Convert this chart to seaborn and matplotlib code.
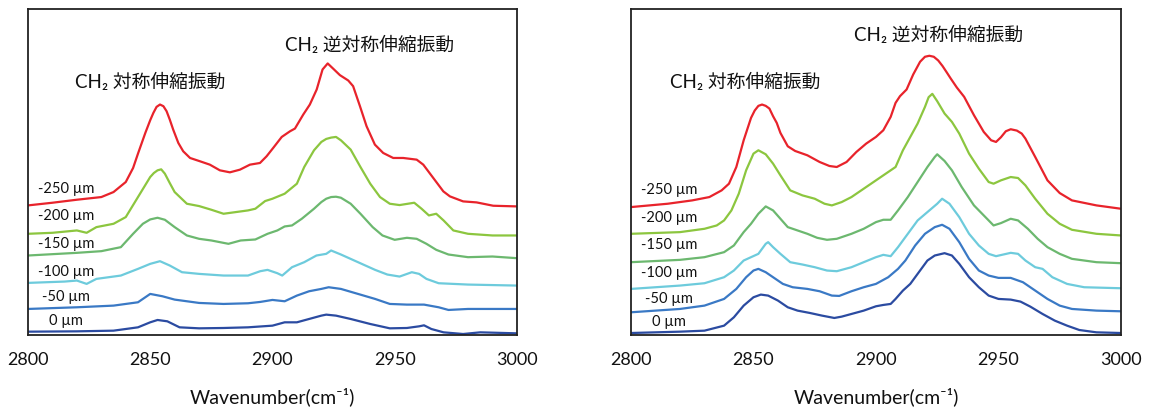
import numpy as np
import pandas as pd
import seaborn as sns
import matplotlib.pyplot as plt

# depth labels (top to bottom) and their line colours
depths = ['-250 µm', '-200 µm', '-150 µm', '-100 µm', '-50 µm', '0 µm']
colors = ['#e8232b', '#8cc63f', '#6cb86f', '#6dcbdc', '#3a79c5', '#2b4ba1']

# ---- left panel spectra (offset for display) ----
l250_wn = [2800, 2810, 2820, 2830, 2835, 2840, 2843, 2845, 2848, 2850, 2851.3, 2852.6, 2854, 2855.4, 2856.7, 2858,
           2859.4, 2861.5, 2863.5, 2866.3, 2870.4, 2874.4, 2878.5, 2882.6, 2886.7, 2890.8, 2894.9, 2897.6, 2900.3,
           2903.8, 2907.2, 2909.2, 2912.6, 2915.3, 2918.1, 2920.5, 2922.6, 2924.9, 2927.6, 2931, 2933, 2935.8, 2938.5,
           2941.9, 2945.3, 2949.4, 2953.5, 2959, 2961.7, 2965.8, 2969.9, 2972.6, 2978, 2983.5, 2990.3, 3000]
l250_ab = [.388, .396, .405, .413, .428, .458, .500, .543, .605, .643, .665, .683, .690, .685, .670, .645,
           .615, .575, .550, .530, .520, .510, .493, .487, .495, .510, .515, .535, .560,
           .593, .610, .618, .660, .690, .735, .795, .813, .797, .778, .762, .745, .685, .625,
           .570, .545, .530, .530, .525, .510, .470, .430, .415, .400, .397, .387, .385]

l200_wn = [2800, 2810, 2820, 2824, 2828, 2835, 2840, 2845, 2850, 2851.5, 2853, 2854.5, 2856, 2858, 2860, 2865, 2870,
           2875, 2880, 2885, 2890, 2893, 2897, 2900, 2905, 2910, 2913, 2917, 2920, 2922, 2924, 2926, 2928, 2932, 2936,
           2940, 2944, 2948, 2952, 2958, 2961, 2964, 2967, 2970, 2974, 2980, 2990, 3000]
l200_ab = [.303, .306, .313, .306, .323, .333, .353, .413, .473, .485, .493, .496, .483, .455, .428, .393, .386,
           .375, .363, .368, .373, .378, .401, .408, .423, .453, .503, .553, .578, .587, .591, .593, .583, .555, .503,
           .453, .413, .393, .389, .396, .378, .358, .363, .343, .313, .303, .298, .298]

l150_wn = [2800, 2820, 2830, 2838, 2843, 2847, 2850, 2853, 2856, 2860, 2865, 2870, 2875, 2882, 2887, 2893, 2898, 2902,
           2905, 2908, 2912, 2917, 2920, 2922, 2924, 2926, 2928, 2932, 2936, 2941, 2945, 2950, 2955, 2959, 2963, 2967,
           2972, 2980, 2990, 3000]
l150_ab = [.238, .246, .251, .263, .303, .333, .346, .351, .345, .323, .298, .288, .283, .273, .283, .286, .303, .313,
           .325, .328, .348, .378, .398, .408, .413, .414, .411, .393, .363, .323, .298, .285, .291, .288, .273, .255,
           .241, .233, .235, .230]

l100_wn = [2800, 2815, 2820, 2824, 2828, 2838, 2845, 2850, 2854, 2858, 2863, 2870, 2880, 2890, 2895, 2898, 2902, 2904,
           2908, 2913, 2918, 2922, 2924, 2928, 2935, 2942, 2947, 2952, 2957, 2960, 2963, 2968, 2980, 3000]
l100_ab = [.156, .160, .163, .153, .168, .178, .198, .213, .221, .208, .188, .183, .178, .178, .191, .195, .185, .178,
           .203, .218, .238, .243, .253, .241, .218, .195, .181, .175, .188, .183, .168, .155, .151, .148]

l50_wn = [2800, 2820, 2835, 2845, 2847, 2850, 2855, 2860, 2870, 2880, 2890, 2895, 2900, 2905, 2910, 2915, 2920, 2923,
          2928, 2935, 2942, 2948, 2955, 2962, 2968, 2972, 2980, 3000]
l50_ab = [.078, .083, .088, .098, .108, .123, .116, .106, .096, .093, .095, .099, .105, .101, .118, .131, .138, .143,
          .138, .123, .108, .093, .091, .091, .083, .075, .078, .078]

l0_wn = [2800, 2820, 2835, 2845, 2850, 2853, 2857, 2862, 2870, 2880, 2890, 2900, 2905, 2910, 2915, 2920, 2922, 2926,
         2932, 2940, 2948, 2955, 2960, 2962, 2965, 2970, 2978, 2985, 3000]
l0_ab = [.010, .011, .013, .023, .038, .045, .041, .023, .020, .021, .023, .028, .038, .038, .048, .058, .061, .058,
         .048, .033, .020, .021, .026, .029, .018, .008, .003, .008, .005]

# ---- right panel spectra (offset for display) ----
r250_wn = [2800, 2815, 2825, 2832, 2837, 2840, 2843, 2846, 2849, 2850.5, 2852, 2853.5, 2855, 2856.5, 2858, 2859.5,
           2861, 2864, 2867, 2872, 2877, 2881, 2884, 2888, 2892, 2896, 2900, 2903, 2906, 2908, 2909.8, 2912.5, 2915.2,
           2918, 2920, 2921.8, 2923.6, 2925.4, 2927.2, 2929, 2930.5, 2933, 2936, 2940, 2944, 2947, 2949, 2951, 2953,
           2955, 2957.5, 2959.5, 2961, 2965, 2970, 2975, 2980, 2990, 3000]
r250_ab = [.383, .393, .403, .413, .433, .453, .503, .583, .650, .672, .686, .690, .686, .678, .655, .635,
           .605, .565, .551, .538, .518, .506, .503, .518, .548, .573, .593, .613, .653, .695, .715, .735, .780,
           .818, .833, .836, .833, .822, .805, .785, .768, .741, .713, .658, .608, .583, .578, .592, .610,
           .616, .612, .603, .588, .533, .463, .425, .403, .388, .378]

r200_wn = [2800, 2820, 2830, 2835, 2838, 2841, 2844, 2847, 2850, 2852, 2855, 2858, 2861, 2865, 2870, 2875, 2879, 2882,
           2886, 2890, 2895, 2900, 2905, 2908, 2911, 2914, 2917, 2920, 2921.5, 2923, 2925, 2928, 2931, 2934, 2938, 2942,
           2946, 2948, 2951, 2955, 2958, 2961, 2965, 2970, 2975, 2980, 2990, 3000]
r200_ab = [.303, .308, .318, .328, .343, .373, .423, .493, .543, .553, .541, .513, .478, .433, .418, .408, .393, .388,
           .398, .413, .438, .463, .488, .503, .553, .593, .633, .683, .712, .722, .700, .663, .638, .603, .543, .498,
           .458, .453, .463, .473, .470, .448, .408, .363, .333, .315, .303, .298]

r150_wn = [2800, 2820, 2830, 2838, 2842, 2846, 2849, 2852, 2855, 2858, 2861, 2864, 2868, 2872, 2876, 2880, 2884, 2890,
           2895, 2900, 2903, 2906, 2909, 2913, 2917, 2921, 2924, 2925, 2928, 2931, 2935, 2940, 2944, 2948, 2951, 2955,
           2958, 2962, 2966, 2970, 2975, 2980, 2990, 3000]
r150_ab = [.218, .225, .233, .248, .268, .308, .333, .363, .385, .373, .348, .323, .313, .303, .291, .285, .288, .303,
           .318, .338, .345, .345, .373, .413, .458, .503, .533, .541, .521, .493, .443, .388, .358, .328, .335, .348,
           .343, .318, .288, .263, .243, .228, .218, .215]

r100_wn = [2800, 2820, 2830, 2838, 2842, 2846, 2849, 2852, 2855, 2856, 2858, 2861, 2865, 2870, 2875, 2880, 2884, 2890,
           2895, 2900, 2903, 2906, 2909, 2913, 2917, 2921, 2925, 2927, 2930, 2934, 2938, 2942, 2946, 2949, 2952, 2955,
           2958, 2961, 2965, 2968, 2972, 2978, 2985, 3000]
r100_ab = [.138, .148, .155, .173, .193, .223, .233, .243, .273, .278, .263, .243, .218, .211, .203, .193, .191, .203,
           .218, .233, .240, .236, .263, .303, .343, .368, .393, .408, .393, .353, .303, .268, .243, .236, .241, .246,
           .243, .223, .203, .198, .173, .153, .143, .140]

r50_wn = [2800, 2820, 2830, 2838, 2843, 2847, 2850, 2852, 2855, 2858, 2862, 2866, 2872, 2877, 2882, 2885, 2890, 2895,
          2900, 2905, 2909, 2912, 2916, 2920, 2924, 2927, 2930, 2934, 2938, 2942, 2946, 2950, 2955, 2960, 2965, 2970,
          2975, 2980, 2990, 3000]
r50_ab = [.068, .078, .088, .108, .138, .173, .193, .198, .188, .173, .153, .143, .138, .131, .118, .117, .131, .143,
          .153, .173, .198, .223, .268, .303, .323, .330, .318, .278, .228, .193, .178, .171, .171, .158, .133, .108,
          .088, .078, .073, .071]

r0_wn = [2800, 2820, 2830, 2838, 2842, 2846, 2850, 2853, 2856, 2860, 2864, 2868, 2873, 2878, 2883, 2886, 2890, 2895,
         2900, 2903, 2906, 2908, 2911, 2914, 2918, 2921, 2924, 2928, 2931, 2934, 2938, 2942, 2946, 2950, 2955, 2959,
         2963, 2968, 2973, 2978, 2983, 2990, 3000]
r0_ab = [.006, .010, .013, .028, .053, .088, .113, .121, .118, .103, .083, .073, .066, .058, .051, .055, .063, .073,
         .086, .090, .093, .108, .133, .153, .193, .223, .238, .245, .238, .213, .173, .143, .118, .108, .106, .100,
         .085, .063, .043, .028, .015, .008, .006]

# label anchor levels for each depth (wavenumber of label centre is lab_wn)
left_lab_y = [.438, .355, .273, .188, .113, .041]
right_lab_y = [.435, .351, .268, .185, .108, .038]
lab_wn = 2815.5

left_curves = [(l250_wn, l250_ab), (l200_wn, l200_ab), (l150_wn, l150_ab),
               (l100_wn, l100_ab), (l50_wn, l50_ab), (l0_wn, l0_ab)]
right_curves = [(r250_wn, r250_ab), (r200_wn, r200_ab), (r150_wn, r150_ab),
                (r100_wn, r100_ab), (r50_wn, r50_ab), (r0_wn, r0_ab)]


def to_frame(curves):
    rows = []
    for d, (wn, ab) in zip(depths, curves):
        rows.append(pd.DataFrame({'wn': wn, 'ab': ab, 'depth': d}))
    return pd.concat(rows, ignore_index=True)


sns.set_style('white')
plt.rcParams['font.family'] = ['Lato', 'Noto Sans CJK JP', 'DejaVu Sans']

fig = plt.figure(figsize=(11.51, 4.11), dpi=100)
ax1 = fig.add_axes([0.0243, 0.1849, 0.4248, 0.7932])
ax2 = fig.add_axes([0.5482, 0.1849, 0.4257, 0.7932])

palette = dict(zip(depths, colors))
sym = 'CH\u2082 対称伸縮振動'
asym = 'CH\u2082 逆対称伸縮振動'

panels = [(ax1, left_curves, left_lab_y, (2819.4, 0.758), (2905, 0.868)),
          (ax2, right_curves, right_lab_y, (2816, 0.758), (2891, 0.898))]

for ax, curves, lab_y, sym_pos, asym_pos in panels:
    df = to_frame(curves)
    sns.lineplot(data=df, x='wn', y='ab', hue='depth', palette=palette, sort=False,
                 estimator=None, linewidth=1.6, legend=False, ax=ax)
    for ln in ax.get_lines():
        ln.set_solid_joinstyle('round')
    ax.set_xlim(2800, 3000)
    ax.set_ylim(0, 0.976)
    ax.set_xticks([2800, 2850, 2900, 2950, 3000])
    ax.set_yticks([])
    ax.tick_params(axis='x', direction='in', length=6, width=1.2, color='#222222',
                   labelsize=13, pad=12, labelcolor='#111111')
    ax.set_xlabel('Wavenumber(cm\u207b\u00b9)', fontsize=14, labelpad=14, color='#111111')
    ax.set_ylabel('')
    for s in ax.spines.values():
        s.set_visible(True)
        s.set_color('#222222')
        s.set_linewidth(1.3)
    for d, y in zip(depths, lab_y):
        ax.text(lab_wn, y, d, ha='center', va='center', fontsize=10.5, color='#111111')
    ax.text(sym_pos[0], sym_pos[1], sym, ha='left', va='center', fontsize=13.5, color='#111111')
    ax.text(asym_pos[0], asym_pos[1], asym, ha='left', va='center', fontsize=13.5, color='#111111')

fig.savefig('out.png', dpi=100)
